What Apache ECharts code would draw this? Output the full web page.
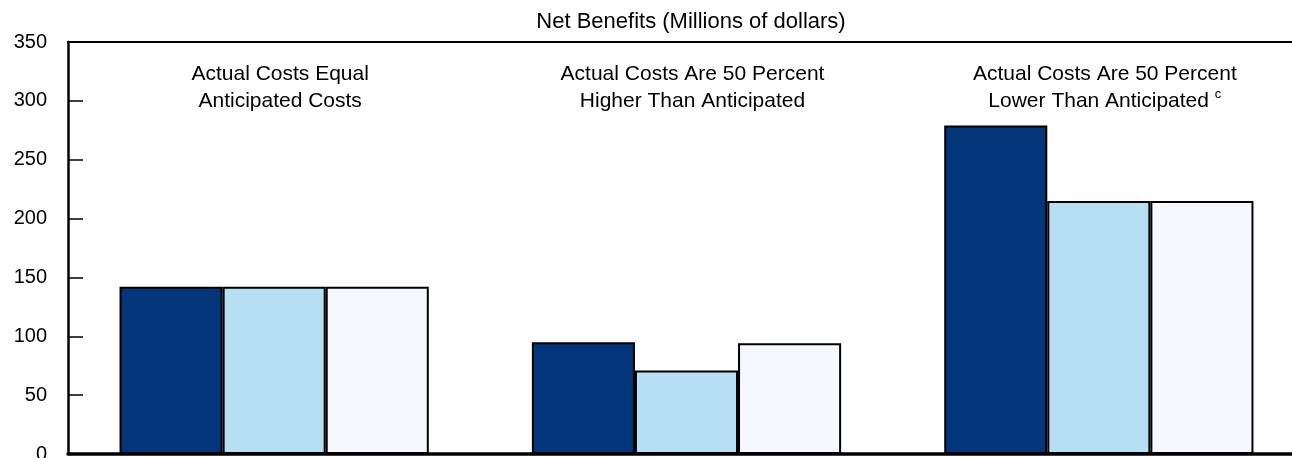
<!DOCTYPE html>
<html>
<head>
<meta charset="utf-8">
<script src="https://cdn.jsdelivr.net/npm/echarts@6/dist/echarts.min.js"></script>
<style>
html,body{margin:0;padding:0;background:#fff;}
#chart{width:1292px;height:458px;}
</style>
</head>
<body>
<div id="chart"></div>
<script>
const categories = [
  'Actual Costs Equal\nAnticipated Costs',
  'Actual Costs Are 50 Percent\nHigher Than Anticipated',
  'Actual Costs Are 50 Percent\nLower Than Anticipated {sup|c}'
];
const seriesA = [142, 95, 279];
const seriesB = [142, 71, 215];
const seriesC = [142, 94, 215];
const yTicks = [0, 50, 100, 150, 200, 250, 300, 350];
const titleText = 'Net Benefits (Millions of dollars)';

const FONT = 'Liberation Sans, Arial, sans-serif';
const colors = ['#03357A', '#B7DFF4', '#F5F9FE'];

const chart = echarts.init(document.getElementById('chart'), null, {renderer: 'canvas'});
const mkSeries = (data, i) => ({
  type: 'bar',
  data: data,
  barGap: '0%',
  barCategoryGap: '25%',
  xAxisIndex: 0,
  yAxisIndex: 0,
  itemStyle: {color: colors[i], borderColor: '#000', borderWidth: 2},
  silent: true
});

chart.setOption({
  animation: false,
  backgroundColor: '#fff',
  title: {
    text: titleText,
    left: 686,
    top: 6,
    textAlign: 'center',
    textStyle: {fontFamily: FONT, fontSize: 22, fontWeight: 'normal', color: '#000'}
  },
  grid: {left: 68, top: 42, width: 1237, height: 412, outerBoundsMode: 'none', containLabel: false},
  xAxis: [
    {
      type: 'category',
      data: categories,
      position: 'bottom',
      axisLine: {lineStyle: {color: '#000', width: 3.5}},
      axisTick: {show: false},
      axisLabel: {show: false},
      splitLine: {show: false}
    },
    {
      type: 'category',
      data: categories,
      position: 'top',
      axisLine: {lineStyle: {color: '#000', width: 2}},
      axisTick: {show: false},
      axisLabel: {
        show: true,
        inside: true,
        margin: 19,
        interval: 0,
        fontFamily: FONT,
        fontSize: 21,
        lineHeight: 27,
        color: '#000',
        padding: [0, 0, 0, 12],
        rich: {
          sup: {fontFamily: FONT, fontSize: 13, verticalAlign: 'top', lineHeight: 14, color: '#000'}
        }
      },
      splitLine: {show: false}
    }
  ],
  yAxis: {
    type: 'value',
    min: 0,
    max: 350,
    interval: 50,
    axisLine: {show: true, lineStyle: {color: '#000', width: 2.5}},
    axisTick: {show: true, inside: true, length: 15, lineStyle: {color: '#000', width: 1.5}},
    axisLabel: {
      fontFamily: FONT, fontSize: 20, color: '#000', margin: 21,
      formatter: v => yTicks.includes(v) ? String(v) : ''
    },
    splitLine: {show: false}
  },
  series: [mkSeries(seriesA, 0), mkSeries(seriesB, 1), mkSeries(seriesC, 2)]
});
</script>
</body>
</html>
